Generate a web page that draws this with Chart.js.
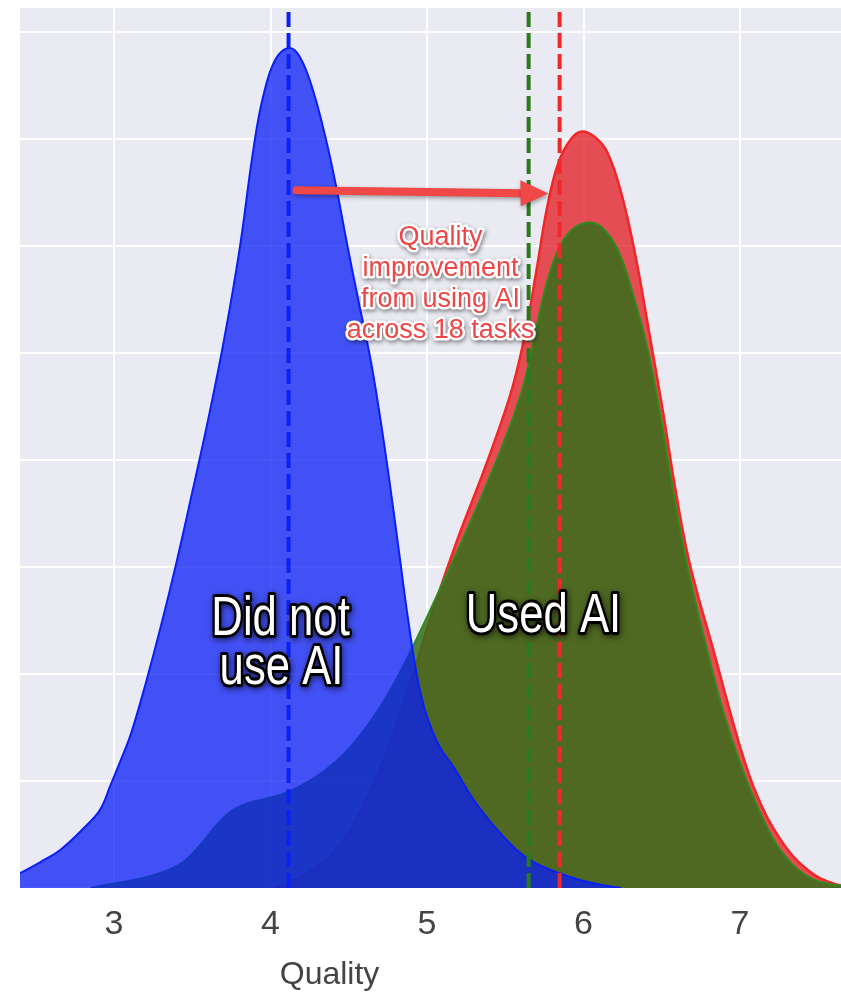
<!DOCTYPE html>
<html>
<head>
<meta charset="utf-8">
<script src="https://cdn.jsdelivr.net/npm/chart.js@4.4.1/dist/chart.umd.min.js"></script>
<style>
  html, body { margin: 0; padding: 0; background: #ffffff; }
  #wrap { width: 841px; height: 992px; position: relative; }
</style>
</head>
<body>
<div id="wrap"><canvas id="qualityChart"></canvas></div>
<script>
// x axis: quality score
const qualityTicks = [3, 4, 5, 6, 7];

// density, did not use AI (blue)
const noAiX = [2.30, 2.40, 2.55, 2.66, 2.82, 2.91, 2.98, 3.05, 3.11, 3.20, 3.30, 3.40, 3.50, 3.60, 3.70, 3.80, 3.89, 3.95, 4.03, 4.12,
  4.19, 4.27, 4.35, 4.42, 4.49, 4.56, 4.64, 4.70, 4.76, 4.82, 4.88, 4.94, 5.00, 5.08, 5.17, 5.30, 5.47, 5.66, 5.92, 6.11, 6.24];
const noAiY = [0.008, 0.014, 0.026, 0.036, 0.058, 0.073, 0.097, 0.122, 0.145, 0.190, 0.245, 0.305, 0.370, 0.437, 0.510, 0.595, 0.690, 0.738, 0.774, 0.785,
  0.776, 0.746, 0.702, 0.655, 0.601, 0.550, 0.493, 0.440, 0.380, 0.315, 0.250, 0.195, 0.160, 0.132, 0.113, 0.082, 0.051, 0.026, 0.010, 0.003, 0.0];

// density, used AI (green)
const aiGreenX = [2.85, 2.95, 3.11, 3.25, 3.42, 3.55, 3.65, 3.75, 3.85, 3.96, 4.08, 4.20, 4.35, 4.50, 4.65, 4.80, 4.95, 5.10, 5.25, 5.40,
  5.52, 5.62, 5.70, 5.77, 5.85, 5.94, 6.04, 6.12, 6.22, 6.32, 6.41, 6.49, 6.57, 6.66, 6.78, 6.89, 7.00, 7.13, 7.26, 7.43, 7.60, 7.75];
const aiGreenY = [0.0, 0.003, 0.007, 0.012, 0.022, 0.040, 0.058, 0.072, 0.079, 0.083, 0.088, 0.096, 0.110, 0.130, 0.158, 0.194, 0.238, 0.285, 0.333, 0.384,
  0.428, 0.472, 0.525, 0.568, 0.600, 0.617, 0.622, 0.617, 0.596, 0.553, 0.503, 0.443, 0.373, 0.303, 0.228, 0.166, 0.117, 0.070, 0.035, 0.011, 0.003, 0.001];

// density, used AI (red)
const aiRedX = [4.02, 4.13, 4.25, 4.38, 4.50, 4.62, 4.77, 4.91, 5.05, 5.20, 5.34, 5.45, 5.55, 5.63, 5.70, 5.77, 5.84, 5.92, 5.99,
  6.07, 6.15, 6.24, 6.33, 6.43, 6.51, 6.59, 6.68, 6.83, 7.00, 7.11, 7.26, 7.43, 7.60, 7.75];
const aiRedY = [0.0, 0.006, 0.015, 0.030, 0.052, 0.085, 0.138, 0.200, 0.265, 0.328, 0.381, 0.425, 0.470, 0.520, 0.578, 0.638, 0.678, 0.700, 0.707,
  0.702, 0.688, 0.650, 0.592, 0.510, 0.443, 0.370, 0.302, 0.222, 0.132, 0.086, 0.045, 0.017, 0.004, 0.001];

// group means (dashed lines)
const meanNoAi = 4.115;
const meanAiGreen = 5.649;
const meanAiRed = 5.847;

const xMin = 2.399;
const xMax = 7.645;
const yMax = 0.8224;

const toPoints = (xs, ys) => xs.map((x, i) => ({ x: x, y: ys[i] }));
const vLine = (m) => [{ x: m, y: 0 }, { x: m, y: yMax }];

// annotation text
const redNoteLines = ['Quality', 'improvement', 'from using AI', 'across 18 tasks'];
const labelFont = "'Liberation Sans', Arial, sans-serif";

const plotBackground = {
  id: 'plotBackground',
  beforeDraw(chart) {
    const { ctx, chartArea: a } = chart;
    ctx.save();
    ctx.fillStyle = '#eaeaf2';
    ctx.fillRect(a.left, a.top, a.right - a.left, a.bottom - a.top);
    ctx.restore();
  }
};

function outlinedText(ctx, text, x, y, opts) {
  ctx.save();
  ctx.translate(x, y);
  ctx.scale(opts.scaleX || 1, 1);
  ctx.font = opts.font;
  ctx.textAlign = 'center';
  ctx.textBaseline = 'alphabetic';
  ctx.lineJoin = 'round';
  ctx.shadowColor = opts.shadow;
  ctx.shadowBlur = opts.blur;
  ctx.shadowOffsetX = 1;
  ctx.shadowOffsetY = 2;
  ctx.strokeStyle = opts.stroke;
  ctx.lineWidth = opts.strokeWidth;
  ctx.strokeText(text, 0, 0);
  ctx.shadowColor = 'transparent';
  ctx.fillStyle = opts.fill;
  ctx.fillText(text, 0, 0);
  ctx.restore();
}

const annotations = {
  id: 'annotations',
  afterDatasetsDraw(chart) {
    const { ctx, scales: { x, y } } = chart;

    // arrow
    const x0 = x.getPixelForValue(4.166), y0 = y.getPixelForValue(0.652);
    const x1 = x.getPixelForValue(5.776), y1 = y.getPixelForValue(0.649);
    const ang = Math.atan2(y1 - y0, x1 - x0);
    const head = 28, half = 13;
    const bx = x1 - head * Math.cos(ang), by = y1 - head * Math.sin(ang);
    ctx.save();
    ctx.shadowColor = 'rgba(0,0,0,0.35)';
    ctx.shadowBlur = 4;
    ctx.shadowOffsetX = 1;
    ctx.shadowOffsetY = 2;
    ctx.strokeStyle = '#f04747';
    ctx.fillStyle = '#f04747';
    ctx.lineWidth = 8;
    ctx.lineCap = 'round';
    ctx.beginPath();
    ctx.moveTo(x0, y0);
    ctx.lineTo(bx + 2, by);
    ctx.stroke();
    ctx.beginPath();
    ctx.moveTo(x1, y1);
    ctx.lineTo(bx - half * Math.sin(ang), by - half);
    ctx.lineTo(bx + half * Math.sin(ang), by + half);
    ctx.closePath();
    ctx.fill();
    ctx.restore();

    // red note
    const noteX = x.getPixelForValue(5.086);
    const noteY = [0.601, 0.572, 0.543, 0.514];
    redNoteLines.forEach((t, i) => {
      outlinedText(ctx, t, noteX, y.getPixelForValue(noteY[i]), {
        font: '27px ' + labelFont, fill: '#ee4646', stroke: '#ffffff', strokeWidth: 5,
        shadow: 'rgba(0,0,0,0.45)', blur: 4
      });
    });

    // group labels
    const big = { font: '56px ' + labelFont, fill: '#ffffff', stroke: '#000000', strokeWidth: 6,
      shadow: 'rgba(0,0,0,0.6)', blur: 6, scaleX: 0.78 };
    outlinedText(ctx, 'Did not', x.getPixelForValue(4.064), y.getPixelForValue(0.236), big);
    outlinedText(ctx, 'use AI', x.getPixelForValue(4.07), y.getPixelForValue(0.191), big);
    outlinedText(ctx, 'Used AI', x.getPixelForValue(5.744), y.getPixelForValue(0.239), big);
  },
  afterDraw(chart) {
    const { ctx, scales: { x } } = chart;
    ctx.save();
    ctx.font = '32px ' + labelFont;
    ctx.fillStyle = '#444444';
    ctx.textAlign = 'center';
    ctx.textBaseline = 'alphabetic';
    ctx.fillText('Quality', x.getPixelForValue(4.377), x.bottom - 8);
    ctx.restore();
  }
};

const ctx = document.getElementById('qualityChart').getContext('2d');
const qualityChart = new Chart(ctx, {
  type: 'line',
  data: {
    datasets: [
      {
        label: 'Used AI (red)',
        data: toPoints(aiRedX, aiRedY),
        borderColor: '#f22626',
        backgroundColor: 'rgba(228, 38, 44, 0.8)',
        borderWidth: 2.5,
        fill: 'origin',
        tension: 0.4,
        order: 5
      },
      {
        label: 'Used AI (green)',
        data: toPoints(aiGreenX, aiGreenY),
        borderColor: '#2f8a1e',
        backgroundColor: 'rgba(53, 111, 26, 0.85)',
        borderWidth: 2,
        fill: 'origin',
        tension: 0.4,
        order: 4
      },
      {
        label: 'Did not use AI',
        data: toPoints(noAiX, noAiY),
        borderColor: '#0a1ef8',
        backgroundColor: 'rgba(10, 30, 245, 0.75)',
        borderWidth: 2,
        fill: 'origin',
        tension: 0.4,
        order: 3
      },
      {
        label: 'mean no AI',
        data: vLine(meanNoAi),
        borderColor: '#0a22f5',
        borderWidth: 4,
        borderDash: [15, 6],
        fill: false,
        tension: 0,
        order: 1
      },
      {
        label: 'mean AI green',
        data: vLine(meanAiGreen),
        borderColor: '#2a7a1c',
        borderWidth: 4,
        borderDash: [15, 6],
        fill: false,
        tension: 0,
        order: 1
      },
      {
        label: 'mean AI red',
        data: vLine(meanAiRed),
        borderColor: '#f02828',
        borderWidth: 4,
        borderDash: [15, 6],
        fill: false,
        tension: 0,
        order: 1
      }
    ]
  },
  options: {
    responsive: true,
    maintainAspectRatio: false,
    animation: false,
    layout: { padding: { top: 8, left: 20, right: 0, bottom: 0 } },
    elements: { point: { radius: 0 } },
    plugins: {
      legend: { display: false },
      tooltip: { enabled: false }
    },
    scales: {
      x: {
        type: 'linear',
        min: xMin,
        max: xMax,
        border: { display: false },
        grid: { color: '#ffffff', lineWidth: 2, drawTicks: false },
        afterBuildTicks: (s) => { s.ticks = qualityTicks.map(v => ({ value: v })); },
        ticks: {
          padding: 16,
          color: '#444444',
          font: { family: labelFont, size: 34 },
          callback: (v) => String(v)
        },
        afterFit: (s) => { s.height = 104; }
      },
      y: {
        min: 0,
        max: yMax,
        border: { display: false },
        grid: { color: '#ffffff', lineWidth: 2, drawTicks: false },
        ticks: { display: false, stepSize: 0.1, includeBounds: false },
        afterFit: (s) => { s.width = 0; }
      }
    }
  },
  plugins: [plotBackground, annotations]
});
</script>
</body>
</html>
